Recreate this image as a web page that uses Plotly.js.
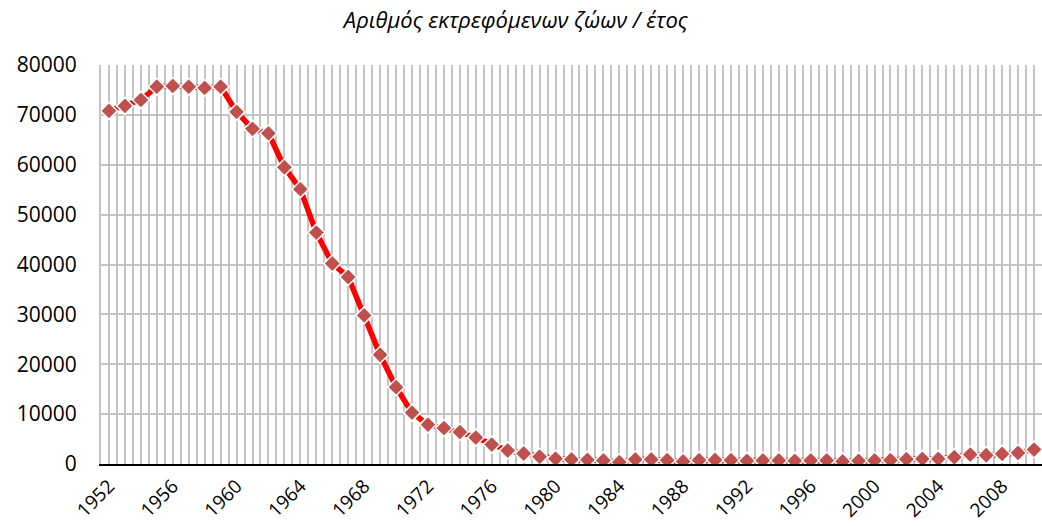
<!DOCTYPE html>
<html>
<head>
<meta charset="utf-8">
<script src="https://cdn.plot.ly/plotly-3.0.1.min.js"></script>
<style>html,body{margin:0;padding:0;background:#fff;}#chart{width:1042px;height:526px;}</style>
</head>
<body>
<div id="chart"></div>
<script>
const years = [1952,1953,1954,1955,1956,1957,1958,1959,1960,1961,1962,1963,1964,1965,1966,1967,1968,1969,1970,1971,
  1972,1973,1974,1975,1976,1977,1978,1979,1980,1981,1982,1983,1984,1985,1986,1987,1988,1989,1990,1991,
  1992,1993,1994,1995,1996,1997,1998,1999,2000,2001,2002,2003,2004,2005,2006,2007,2008,2009,2010];
const animals = [70800,71800,73000,75650,75800,75650,75400,75650,70600,67200,66300,59500,55100,46400,40200,37500,29800,21900,15400,10300,
  7900,7200,6400,5300,3900,2700,2100,1450,1050,900,830,700,360,900,900,760,500,760,800,760,
  640,700,700,640,700,700,500,640,700,760,960,1030,1030,1350,1890,1750,2030,2230,2890];
const labelYears = [1952,1956,1960,1964,1968,1972,1976,1980,1984,1988,1992,1996,2000,2004,2008];
const titleText = 'Αριθμός εκτρεφόμενων ζώων / έτος';

const boundaries = years.map(y => y - 0.5).concat([years[years.length-1] + 0.5]);
const xRange = [years[0] - 0.5, years[years.length-1] + 0.5];
const grid = '#c4c4c4';
const yTickFont = {family: 'Open Sans, sans-serif', size: 21, color: '#000'};
const xTickFont = {family: 'Open Sans, sans-serif', size: 19, color: '#000'};

const data = [{
  x: years, y: animals, type: 'scatter', mode: 'lines+markers',
  line: {color: '#ff0000', width: 5.5},
  marker: {symbol: 'diamond', size: 13, color: '#c0504d', line: {color: '#ffffff', width: 1.5}},
  hoverinfo: 'x+y'
}];

const layout = {
  width: 1042, height: 526,
  margin: {l: 101, r: 0, t: 65, b: 62},
  paper_bgcolor: '#fff', plot_bgcolor: '#fff',
  showlegend: false,
  title: {text: titleText, x: 0.495, xref: 'container', xanchor: 'center', y: 0.962, yref: 'container', yanchor: 'middle',
          font: {family: 'Open Sans, sans-serif', size: 22, style: 'italic', color: '#000'}},
  xaxis: {
    type: 'linear', range: xRange,
    tickmode: 'array', tickvals: labelYears, ticktext: labelYears.map(String),
    tickangle: -45, tickfont: xTickFont, ticks: '', ticklabelstandoff: 2,
    showgrid: true, gridcolor: grid, gridwidth: 2,
    minor: {tick0: xRange[0], dtick: 0.5, showgrid: true, gridcolor: grid, gridwidth: 2, ticks: ''},
    showline: true, linecolor: '#000', linewidth: 1.5,
    zeroline: false
  },
  xaxis2: {
    type: 'linear', range: xRange, overlaying: 'x', anchor: 'y', side: 'bottom',
    tickmode: 'array', tickvals: boundaries, ticks: 'outside', ticklen: 6, tickwidth: 1.5, tickcolor: '#000',
    showticklabels: false, showgrid: false, zeroline: false, showline: false
  },
  yaxis: {
    range: [0, 80000], dtick: 10000, tickformat: 'd',
    tickfont: yTickFont, ticks: '', ticklabelstandoff: 18,
    showgrid: true, gridcolor: grid, gridwidth: 2, zeroline: false,
    showline: true, linecolor: grid, linewidth: 2
  }
};

Plotly.newPlot('chart', data, layout, {displayModeBar: false, staticPlot: true});
</script>
</body>
</html>
